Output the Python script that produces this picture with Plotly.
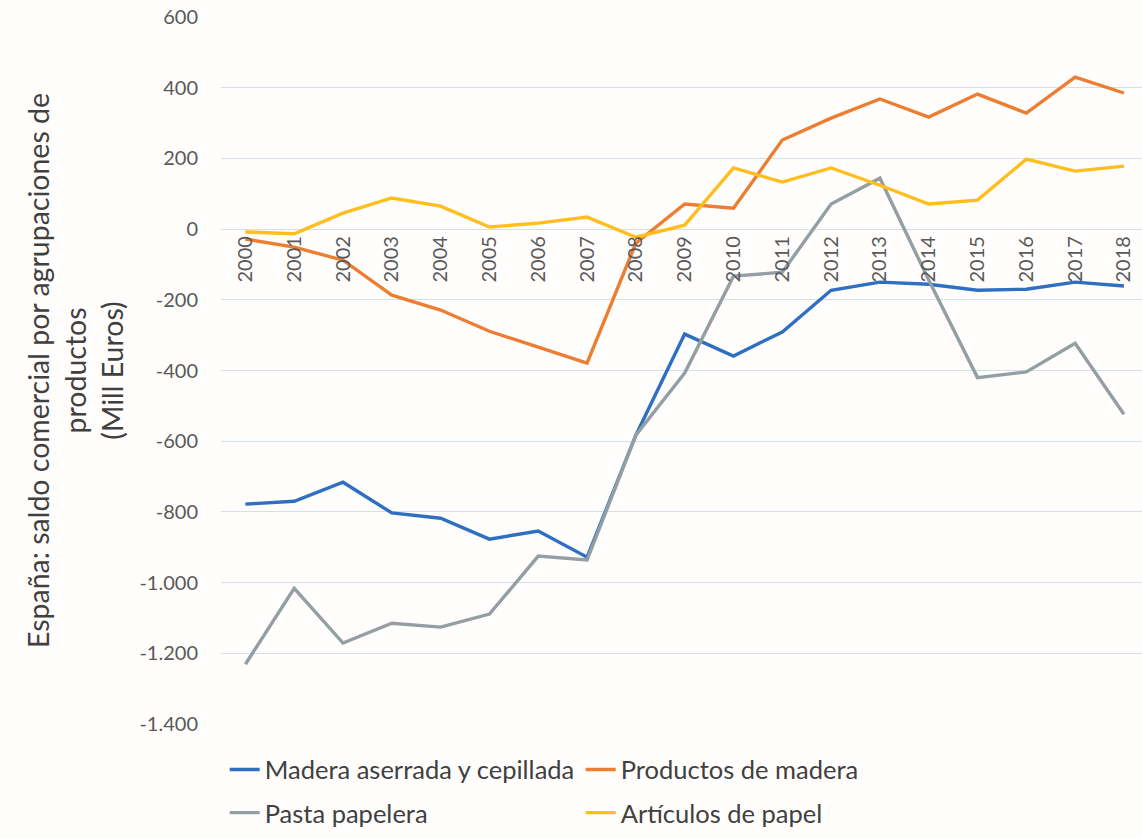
import plotly.graph_objects as go

# Years on the category axis
years = ["2000", "2001", "2002", "2003", "2004", "2005", "2006", "2007", "2008", "2009",
         "2010", "2011", "2012", "2013", "2014", "2015", "2016", "2017", "2018"]

# Trade balance by product group (million euros)
madera_aserrada = [-778, -770, -716, -803, -818, -877, -854, -928, -583, -297,
                   -359, -291, -173, -150, -156, -173, -170, -150, -161]
productos_madera = [-28, -51, -88, -187, -229, -289, -334, -379, -40, 71,
                    59, 252, 314, 368, 317, 382, 328, 430, 385]
pasta_papelera = [-1231, -1016, -1171, -1115, -1126, -1089, -925, -936, -583, -407,
                  -133, -122, 71, 144, -144, -420, -404, -323, -524]
articulos_papel = [-8, -13, 45, 88, 65, 6, 17, 34, -23, 11,
                   173, 133, 173, 124, 71, 82, 198, 164, 178]

y_tickvals = [-1400, -1200, -1000, -800, -600, -400, -200, 0, 200, 400, 600]
y_ticktext = ["-1.400", "-1.200", "-1.000", "-800", "-600", "-400", "-200", "0", "200", "400", "600"]

series = [
    ("Madera aserrada y cepillada", madera_aserrada, "#2F6FC2", "legend"),
    ("Productos de madera", productos_madera, "#ED7D31", "legend"),
    ("Pasta papelera", pasta_papelera, "#939FA2", "legend2"),
    ("Artículos de papel", articulos_papel, "#FFBE1E", "legend2"),
]

FONT = "Lato"
TEXT = "#404040"
TICK = "#595959"

fig = go.Figure()
for name, vals, color, leg in series:
    fig.add_trace(go.Scatter(
        x=years, y=vals, name=name, mode="lines",
        line=dict(color=color, width=3.4),
        legend=leg,
    ))

legend_common = dict(
    orientation="h", xref="paper", yref="paper",
    xanchor="left", yanchor="middle", x=0.004,
    font=dict(family=FONT, size=25.5, color=TEXT),
    entrywidth=311, entrywidthmode="pixels",
    bgcolor="rgba(0,0,0,0)", itemwidth=30,
)

fig.update_layout(
    width=1142, height=838,
    margin=dict(l=221, r=0, t=17, b=114),
    paper_bgcolor="#FFFEFD", plot_bgcolor="#FFFEFD",
    showlegend=True,
    legend=dict(legend_common, y=-0.065),
    legend2=dict(legend_common, y=-0.126),
    xaxis=dict(
        type="category", range=[-0.5, 18.37],
        anchor="free", position=0.7,
        showgrid=False, showline=False, zeroline=False, ticks="",
        tickangle=-90, ticklabelstandoff=2,
        tickfont=dict(family=FONT, size=20, color=TICK),
    ),
    yaxis=dict(
        range=[-1400, 600], domain=[0, 1],
        tickvals=y_tickvals, ticktext=y_ticktext,
        showgrid=True, gridcolor="#D3E0E8", gridwidth=1.2,
        zeroline=False, showline=False, ticks="",
        ticklabelstandoff=22,
        tickfont=dict(family=FONT, size=20, color=TICK),
        title=dict(
            text="España: saldo comercial por agrupaciones de<br>productos<br>(Mill Euros)",
            font=dict(family=FONT, size=28.5, color=TEXT),
            standoff=7,
        ),
    ),
)

fig.write_html("out.html")
